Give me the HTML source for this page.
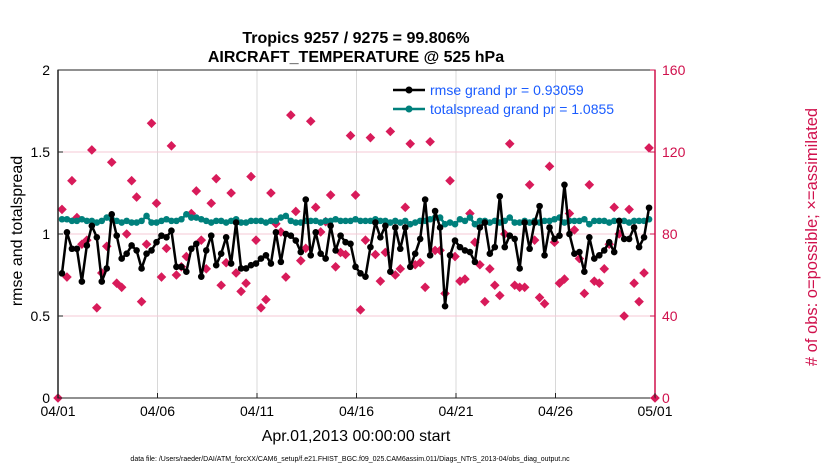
<!DOCTYPE html>
<html><head><meta charset="utf-8"><style>
body{margin:0;background:#fff;}
svg{display:block;font-family:"Liberation Sans",sans-serif;}
</style></head><body>
<svg id="chart" width="830" height="470">
<text x="356" y="43" text-anchor="middle" font-size="16" font-weight="bold">Tropics 9257 / 9275 = 99.806%</text>
<text x="356" y="62" text-anchor="middle" font-size="16" font-weight="bold">AIRCRAFT_TEMPERATURE @ 525 hPa</text>
<g id="grid"></g>
<g id="marks"></g>
<rect x="58" y="70" width="597" height="328" fill="none" stroke="#222" stroke-width="1"/>
<line x1="58" y1="70" x2="58" y2="398" stroke="#222" stroke-width="1.5"/>
<line x1="655" y1="70" x2="655" y2="398" stroke="#d0104c" stroke-width="1.5"/>
<g id="axes"></g>
<text transform="translate(22,231) rotate(-90)" text-anchor="middle" font-size="16">rmse and totalspread</text>
<text transform="translate(817,237) rotate(-90)" text-anchor="middle" font-size="16.5" fill="#d0104c"># of obs: o=possible; ×=assimilated</text>
<text x="356" y="441" text-anchor="middle" font-size="16">Apr.01,2013 00:00:00 start</text>
<text x="350" y="461" text-anchor="middle" font-size="7">data file: /Users/raeder/DAI/ATM_forcXX/CAM6_setup/f.e21.FHIST_BGC.f09_025.CAM6assim.011/Diags_NTrS_2013-04/obs_diag_output.nc</text>
<g>
<line x1="393" y1="90" x2="425" y2="90" stroke="#000" stroke-width="2.5"/>
<circle cx="409" cy="90" r="3.5" fill="#000"/>
<text x="430" y="95" font-size="14" fill="#1a5cff">rmse grand pr = 0.93059</text>
<line x1="393" y1="109" x2="425" y2="109" stroke="#00807c" stroke-width="2.5"/>
<circle cx="409" cy="109" r="3.5" fill="#00807c"/>
<text x="430" y="114" font-size="14" fill="#1a5cff">totalspread grand pr = 1.0855</text>
</g>
</svg>
<script>
const xTickLabels=["04/01","04/06","04/11","04/16","04/21","04/26","05/01"];
const xTickDays=[0,5,10,15,20,25,30];
const yTicks=[0,0.5,1,1.5,2];
const yRightTicks=[0,40,80,120,160];
const rmse=[0.76,1.01,0.91,0.91,0.71,0.93,1.05,0.98,0.71,0.79,1.12,0.99,0.85,0.88,0.93,0.90,0.79,0.88,0.90,0.95,0.99,0.98,1.02,0.80,0.80,0.77,0.91,0.94,0.74,0.90,0.99,0.81,0.88,0.98,0.82,1.07,0.79,0.79,0.81,0.82,0.85,
0.87,0.82,1.01,0.83,1.00,0.99,0.96,0.89,1.21,0.87,1.01,0.88,0.85,1.05,0.90,0.99,0.95,0.94,0.80,0.76,0.74,0.92,1.07,0.98,1.05,0.77,1.04,0.91,1.04,0.80,0.88,0.97,1.21,0.87,1.14,1.04,0.56,0.87,0.96,0.92,
0.90,0.89,0.83,1.04,1.07,0.88,0.92,1.23,0.92,0.99,0.97,0.79,1.07,0.91,1.07,1.17,0.87,1.04,0.97,0.99,1.30,1.00,0.88,0.89,0.77,0.98,0.85,0.87,0.90,0.95,0.89,1.08,0.97,0.97,1.04,0.92,0.98,1.16];
const spread=[1.09,1.09,1.08,1.08,1.09,1.08,1.08,1.07,1.08,1.10,1.09,1.08,1.07,1.08,1.07,1.07,1.08,1.11,1.07,1.07,1.08,1.09,1.08,1.08,1.09,1.12,1.10,1.10,1.09,1.08,1.07,1.08,1.08,1.07,1.08,1.09,1.07,1.07,1.08,1.08,1.08,
1.07,1.08,1.08,1.10,1.11,1.08,1.07,1.07,1.08,1.08,1.08,1.07,1.08,1.08,1.09,1.08,1.08,1.08,1.09,1.08,1.08,1.08,1.09,1.08,1.08,1.07,1.08,1.07,1.08,1.06,1.07,1.08,1.08,1.09,1.10,1.10,1.06,1.07,1.06,1.09,
1.08,1.10,1.06,1.08,1.08,1.07,1.08,1.07,1.08,1.10,1.07,1.07,1.08,1.07,1.08,1.07,1.08,1.08,1.09,1.10,1.07,1.08,1.08,1.08,1.09,1.06,1.08,1.08,1.08,1.07,1.08,1.08,1.08,1.07,1.08,1.08,1.08,1.09];
const obsCount=[92,59,106,88,75,77,121,44,61,74,115,56,54,80,106,98,47,75,134,95,59,73,123,60,64,69,90,101,77,63,95,107,55,66,100,61,52,56,108,77,44,
48,100,85,81,59,138,91,67,73,135,93,81,86,99,64,71,70,128,99,43,77,127,70,57,71,130,60,63,93,124,65,66,54,125,72,72,51,106,69,57,
58,90,76,65,47,63,55,50,80,124,55,54,54,104,77,49,46,113,76,56,58,90,82,68,51,104,57,56,63,75,93,80,40,92,56,47,61,122];
const NS="http://www.w3.org/2000/svg";
const X0=58,X1=655,Y0=398,Y1=70;
const xs=d=>X0+(d/30)*(X1-X0);
const ys=v=>Y0-(v/2)*(Y0-Y1);
const yr=v=>Y0-(v/160)*(Y0-Y1);
const dayOf=i=>0.2+i*0.25;
function mk(tag,attrs,parent){const e=document.createElementNS(NS,tag);for(const k in attrs)e.setAttribute(k,attrs[k]);parent.appendChild(e);return e;}
const grid=document.getElementById('grid'),marks=document.getElementById('marks'),axes=document.getElementById('axes');
xTickDays.forEach((d,i)=>{
  if(i>0&&i<xTickDays.length-1){const g=mk('line',{x1:xs(d),x2:xs(d),y1:Y1,y2:Y0,stroke:'#d8d8d8','stroke-width':1},grid);
  
  }
  const t=mk('text',{x:xs(d),y:416,'text-anchor':'middle','font-size':14},axes);t.textContent=xTickLabels[i];
  
  
  mk('line',{x1:xs(d),x2:xs(d),y1:Y0,y2:Y0-5,stroke:'#222'},axes);
});
yTicks.forEach(v=>{
  if(v>0&&v<2){const g=mk('line',{x1:X0,x2:X1,y1:ys(v),y2:ys(v),stroke:'#f6c8d6','stroke-width':1},grid);
  
  }
  const t=mk('text',{x:50,y:ys(v)+5,'text-anchor':'end','font-size':14},axes);t.textContent=String(v);
  
  
  mk('line',{x1:X0,x2:X0+5,y1:ys(v),y2:ys(v),stroke:'#222'},axes);
});
yRightTicks.forEach(v=>{
  const t=mk('text',{x:662,y:yr(v)+5,'font-size':14,fill:'#d0104c'},axes);t.textContent=String(v);
  
  
  mk('line',{x1:X1-5,x2:X1,y1:yr(v),y2:yr(v),stroke:'#d0104c'},axes);
});
function diamond(cx,cy){const r=4.8;return `${cx},${cy-r} ${cx+r},${cy} ${cx},${cy+r} ${cx-r},${cy}`;}
obsCount.forEach((v,i)=>{
  const p=mk('polygon',{points:diamond(xs(dayOf(i)),yr(v)),fill:'#d81b5a'},marks);
  
  
});
[0,30].forEach(d=>{const p=mk('polygon',{points:diamond(xs(d),yr(0)),fill:'#d81b5a'},marks);
  
  });
function series(vals,color,name){
  const pts=vals.map((v,i)=>xs(dayOf(i))+','+ys(v)).join(' ');
  const l=mk('polyline',{points:pts,fill:'none',stroke:color,'stroke-width':2.5,'stroke-linejoin':'round'},marks);
  
  
  vals.forEach((v,i)=>{const c=mk('circle',{cx:xs(dayOf(i)),cy:ys(v),r:3.3,fill:color},marks);
    
    });
}
series(spread,'#00807c','totalspread');
series(rmse,'#000000','rmse');
</script>
</body></html>
